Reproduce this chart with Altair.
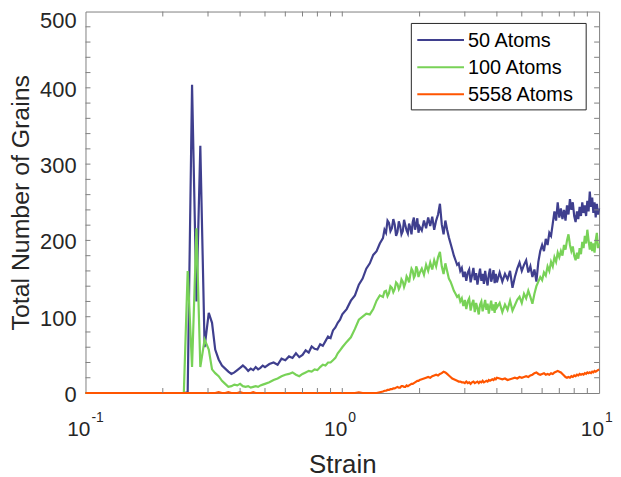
import altair as alt
import pandas as pd

# ---------------- data ----------------
strain = [
    # onset / spikes
    0.1, 0.2, 0.2415, 0.25, 0.26, 0.2705, 0.28, 0.291, 0.302, 0.311,
    # 0.32 .. 0.50
    0.32, 0.33, 0.34, 0.35, 0.36, 0.37, 0.38, 0.39, 0.40, 0.41, 0.42, 0.43, 0.44, 0.45, 0.46, 0.47, 0.48, 0.49, 0.50,
    # 0.52 .. 1.00
    0.52, 0.54, 0.56, 0.58, 0.60, 0.62, 0.64, 0.66, 0.68, 0.70, 0.72, 0.74, 0.76, 0.78, 0.80, 0.82, 0.84, 0.86, 0.88,
    0.90, 0.92, 0.94, 0.96, 0.98, 1.00,
    # 1.04 .. 1.40
    1.04, 1.08, 1.12, 1.16, 1.20, 1.24, 1.28, 1.32, 1.36, 1.40,
    # 1.44 .. 2.00
    1.44, 1.46, 1.48, 1.50, 1.52, 1.54, 1.56, 1.58, 1.60, 1.62, 1.64, 1.66, 1.68, 1.70, 1.72, 1.74, 1.76, 1.78,
    1.80, 1.82, 1.84, 1.86, 1.88, 1.90, 1.92, 1.94, 1.96, 1.98, 2.00,
    # 2.04 .. 4.00
    2.04, 2.08, 2.12, 2.16, 2.20, 2.24, 2.28, 2.32, 2.36, 2.40,
    2.44, 2.48, 2.52, 2.56, 2.60, 2.64, 2.68, 2.72, 2.76, 2.80,
    2.84, 2.88, 2.92, 2.96, 3.00, 3.04, 3.08, 3.12, 3.16, 3.20,
    3.24, 3.28, 3.32, 3.36, 3.40, 3.44, 3.48, 3.52, 3.56, 3.60,
    3.64, 3.68, 3.72, 3.76, 3.80, 3.84, 3.88, 3.92, 3.96, 4.00,
    # 4.1 .. 10.0
    4.1, 4.2, 4.3, 4.4, 4.5, 4.6, 4.7, 4.8, 4.9, 5.0,
    5.1, 5.2, 5.3, 5.4, 5.5, 5.6, 5.7, 5.8, 5.9, 6.0,
    6.1, 6.2, 6.3, 6.4, 6.5, 6.6, 6.7, 6.8, 6.9, 7.0,
    7.1, 7.2, 7.3, 7.4, 7.5, 7.6, 7.7, 7.8, 7.9, 8.0,
    8.1, 8.2, 8.3, 8.4, 8.5, 8.6, 8.7, 8.8, 8.9, 9.0,
    9.1, 9.2, 9.3, 9.4, 9.5, 9.6, 9.7, 9.8, 9.9, 10.0,
]

atoms_50 = [
    0, 0, 0, 1, 404, 120, 324, 60, 105, 92,
    57, 44, 36, 32, 28, 25, 27, 30, 33, 36, 33, 29, 32, 30, 34, 31, 33, 36, 34,
    38, 40, 37, 45, 43, 48, 46, 52, 47, 50, 56, 53, 61, 58, 57, 64, 62, 68, 74, 72, 82, 86, 92, 96, 103,
    110, 121, 128, 142, 150, 163, 170, 181, 186, 196,
    203, 214, 210, 226, 223, 212, 216, 228, 221, 206, 211, 225, 219, 208, 212, 227, 220, 213,
    209, 222, 217, 208, 224, 230, 214, 221, 229, 210, 218,
    213, 226, 216, 230, 219, 231, 214, 226, 234, 248,
    221, 208, 226, 214, 204, 196, 188, 180, 174, 168,
    170, 160, 164, 152, 159, 147, 158, 162, 145, 154,
    164, 148, 157, 142, 153, 163, 147, 156, 143, 160,
    149, 141, 155, 163, 146, 152, 161, 144, 156, 145,
    158, 146, 156, 149, 160, 138, 152, 163, 171, 160,
    168, 174, 158, 166, 152, 162, 146, 172, 186, 194,
    186, 202, 194, 210, 206, 222, 238, 226, 250, 230,
    242, 228, 240, 226, 246, 234, 254, 240, 250, 232,
    224, 238, 228, 244, 232, 250, 236, 246, 232, 252,
    238, 264, 244, 256, 236, 250, 230, 248, 234, 242,
]

atoms_100 = [
    0, 0, 0, 160, 34, 216, 34, 70, 57, 31,
    26, 22, 16, 12, 8, 9, 11, 10, 12, 9, 8, 9, 7, 8, 9, 8, 10, 11, 12,
    14, 17, 19, 22, 24, 25, 27, 24, 22, 25, 27, 29, 28, 31, 30, 34, 37, 36, 40, 40, 43, 46, 52, 56, 60,
    67, 73, 84, 96, 100, 104, 103, 110, 121, 128,
    126, 133, 134, 127, 131, 140, 138, 132, 136, 145, 143, 136, 140, 149, 146, 139, 144, 153,
    150, 145, 155, 163, 160, 151, 154, 166, 162, 152, 157,
    163, 155, 168, 160, 171, 162, 174, 166, 178, 185,
    166, 156, 170, 160, 150, 146, 140, 134, 130, 126,
    128, 120, 124, 114, 122, 110, 120, 124, 108, 117,
    122, 106, 118, 111, 103, 116, 120, 107, 114, 122,
    109, 117, 104, 113, 121, 108, 116, 105, 119, 112,
    118, 106, 116, 109, 121, 108, 115, 122, 126, 118,
    130, 124, 134, 126, 117, 130, 140, 146, 152, 148,
    158, 154, 166, 160, 172, 166, 178, 172, 184, 178,
    186, 180, 194, 188, 200, 208, 194, 186, 192, 180,
    174, 184, 176, 190, 182, 198, 190, 206, 196, 214,
    200, 188, 198, 186, 196, 184, 200, 210, 190, 196,
]

atoms_5558 = [
    0, 0, 0, 0, 0, 0, 0, 0, 0, 0,
    0, 1, 0, 0, 1, 0, 0, 0, 1, 0, 0, 0, 0, 1, 0, 0, 0, 0, 0,
    0, 0, 0, 0, 0, 0, 0, 0, 0, 0, 0, 0, 0, 0, 0, 0, 0, 0, 0, 0, 0, 0, 0, 0, 0,
    0, 0, 0, 1, 0, 0, 0, 0, 0, 1,
    2, 3, 3, 4, 4, 5, 5, 6, 6, 7, 8, 7, 7, 9, 9, 8, 8, 10,
    9, 10, 11, 12, 12, 13, 14, 15, 16, 16, 17,
    18, 19, 20, 21, 20, 22, 23, 24, 23, 25,
    26, 28, 27, 25, 23, 21, 19, 18, 17, 16,
    15, 15, 14, 14, 13, 15, 13, 14, 12, 14,
    15, 13, 14, 15, 13, 15, 14, 16, 14, 15,
    16, 15, 17, 16, 17, 18, 17, 19, 18, 20,
    19, 18, 19, 17, 18, 19, 20, 19, 21, 20,
    21, 22, 21, 23, 24, 26, 27, 25, 24, 25,
    26, 24, 25, 24, 26, 25, 27, 28, 29, 28,
    27, 25, 23, 21, 20, 21, 20, 22, 21, 23,
    22, 24, 23, 25, 24, 25, 24, 26, 25, 27,
    26, 27, 26, 28, 27, 29, 28, 29, 30, 31,
]

series_names = ["50 Atoms", "100 Atoms", "5558 Atoms"]
series_colors = ["#3F3F8E", "#78D257", "#FF5500"]

y_label_vals = [0, 100, 200, 300, 400]
y_top_label = [500]
y_minor = [20, 40, 60, 80, 100, 120, 140, 160, 180, 200, 220, 240, 260, 280, 300, 320, 340, 360, 380, 400,
           420, 440, 460, 480]
x_minor = [0.2, 0.3, 0.4, 0.5, 0.6, 0.7, 0.8, 0.9, 1, 2, 3, 4, 5, 6, 7, 8, 9]
x_label_vals = [0.1, 1, 10]
x_label_exp = ["-1", "0", "1"]

# ---------------- styling ----------------
FONT = "Liberation Sans"
TXT = "#262626"
AX = "#808080"
W, H = 517, 384

xs = alt.Scale(type="log", domain=[0.1, 10], nice=False)
ys = alt.Scale(domain=[0, 500], nice=False, zero=False)

x_axis = alt.Axis(title="Strain", labels=False, ticks=False, domain=False, grid=False,
                  titleFont=FONT, titleFontSize=26, titleFontWeight="normal", titleColor=TXT,
                  titleY=80, titleBaseline="alphabetic")
y_axis = alt.Axis(title="Total Number of Grains", labels=False, ticks=False, domain=False, grid=False,
                  titleFont=FONT, titleFontSize=25, titleFontWeight="normal", titleColor=TXT,
                  titleX=-57, titleY=H / 2, titleAngle=270, titleBaseline="alphabetic", titleAlign="center")


def X(field):
    return alt.X(field, scale=xs, axis=x_axis)


def Y(field):
    return alt.Y(field, scale=ys, axis=y_axis)


layers = []

# data lines
for vals, col in zip([atoms_50, atoms_100, atoms_5558], series_colors):
    df = pd.DataFrame({"strain": strain, "grains": vals})
    layers.append(alt.Chart(df).mark_line(color=col, strokeWidth=2.2, clip=False).encode(
        x=X("strain:Q"), y=Y("grains:Q")))

# inward ticks (bottom/top/left/right)
df_xt = pd.DataFrame({"t": x_minor})
df_yt = pd.DataFrame({"t": y_minor})
for y0, y1 in [(H, H - 5), (0, 5)]:
    layers.append(alt.Chart(df_xt).mark_rule(color=AX, strokeWidth=1).encode(
        x=X("t:Q"), y=alt.value(y0), y2=alt.value(y1)))
for x0, x1 in [(0, 5), (W, W - 5)]:
    layers.append(alt.Chart(df_yt).mark_rule(color=AX, strokeWidth=1).encode(
        y=Y("t:Q"), x=alt.value(x0), x2=alt.value(x1)))

# y tick labels
df_yl = pd.DataFrame({"v": y_label_vals, "lab": [str(v) for v in y_label_vals]})
layers.append(alt.Chart(df_yl).mark_text(align="right", baseline="middle", dx=-9, dy=2, fontSize=22,
                                          font=FONT, color=TXT).encode(
    x=alt.value(0), y=Y("v:Q"), text="lab:N"))
df_yt_top = pd.DataFrame({"v": y_top_label, "lab": [str(v) for v in y_top_label]})
layers.append(alt.Chart(df_yt_top).mark_text(align="right", baseline="top", dx=-9, dy=0, fontSize=22,
                                              font=FONT, color=TXT).encode(
    x=alt.value(0), y=Y("v:Q"), text="lab:N"))

# x tick labels with superscript exponents
df_xl = pd.DataFrame({"v": x_label_vals, "base": ["10"] * 3, "exp": x_label_exp})
layers.append(alt.Chart(df_xl).mark_text(align="right", baseline="alphabetic", dx=5, fontSize=21,
                                          font=FONT, color=TXT).encode(
    x=X("v:Q"), y=alt.value(427), text="base:N"))
layers.append(alt.Chart(df_xl).mark_text(align="left", baseline="alphabetic", dx=6, fontSize=14,
                                          font=FONT, color=TXT).encode(
    x=X("v:Q"), y=alt.value(413), text="exp:N"))

# legend
box = pd.DataFrame({"a": [0]})
layers.append(alt.Chart(box).mark_rect(fill="white", stroke="#262626", strokeWidth=1).encode(
    x=alt.value(328), x2=alt.value(504), y=alt.value(12), y2=alt.value(99)))
for k, (name, col) in enumerate(zip(series_names, series_colors)):
    yy = 28.7 + k * 27.3
    layers.append(alt.Chart(box).mark_rule(color=col, strokeWidth=2).encode(
        x=alt.value(334), x2=alt.value(381), y=alt.value(yy)))
    layers.append(alt.Chart(box).mark_text(align="left", baseline="middle", fontSize=20, font=FONT,
                                           color="#000000").encode(
        x=alt.value(385), y=alt.value(yy + 1), text=alt.value(name)))

chart = alt.layer(*layers).properties(
    width=W, height=H,
    padding={"left": 78, "top": 2, "right": 14, "bottom": 84},
    autosize=alt.AutoSizeParams(type="none"),
).configure_view(stroke=AX, strokeWidth=1)

chart.save("out.html", embed_options={"renderer": "svg", "actions": False})
